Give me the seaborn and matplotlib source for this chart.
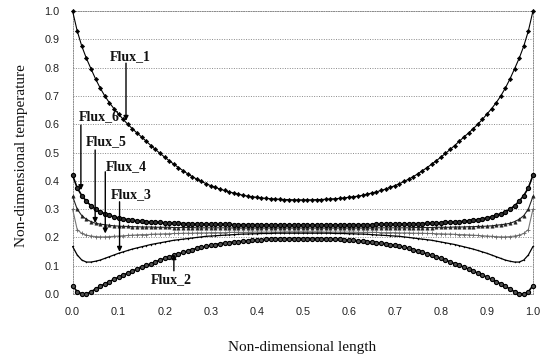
import numpy as np
import pandas as pd
import matplotlib
matplotlib.use("Agg")
import matplotlib.pyplot as plt
import seaborn as sns

# ---------------- data (x step 0.01 from 0 to 1) ----------------
flux_1 = [1.000, 0.930, 0.876, 0.833, 0.796, 0.760, 0.728, 0.700, 0.676, 0.655,
          0.636, 0.617, 0.600, 0.584, 0.569, 0.555, 0.540, 0.525, 0.511, 0.497,
          0.484, 0.471, 0.459, 0.447, 0.436, 0.425, 0.415, 0.406, 0.398, 0.390,
          0.383, 0.377, 0.371, 0.366, 0.361, 0.357, 0.353, 0.349, 0.346, 0.344,
          0.342, 0.340, 0.338, 0.337, 0.336, 0.335, 0.334, 0.334, 0.333, 0.333,
          0.333,
          0.333, 0.333, 0.334, 0.334, 0.335, 0.336, 0.337, 0.338, 0.340, 0.342,
          0.344, 0.346, 0.349, 0.353, 0.357, 0.361, 0.366, 0.371, 0.377, 0.383,
          0.390, 0.398, 0.406, 0.415, 0.425, 0.436, 0.447, 0.459, 0.471, 0.484,
          0.497, 0.511, 0.525, 0.540, 0.555, 0.569, 0.584, 0.600, 0.617, 0.636,
          0.655, 0.676, 0.700, 0.728, 0.760, 0.796, 0.833, 0.876, 0.930, 1.000]

flux_2 = [0.030, 0.008, 0.001, 0.000, 0.008, 0.018, 0.027, 0.036, 0.044, 0.052,
          0.060, 0.067, 0.074, 0.081, 0.088, 0.095, 0.101, 0.107, 0.114, 0.120,
          0.126, 0.131, 0.137, 0.142, 0.147, 0.152, 0.157, 0.161, 0.165, 0.169,
          0.172, 0.175, 0.178, 0.180, 0.182, 0.184, 0.185, 0.187, 0.188, 0.190,
          0.191, 0.192, 0.193, 0.193, 0.194, 0.195, 0.195, 0.196, 0.196, 0.196,
          0.196,
          0.196, 0.196, 0.196, 0.195, 0.195, 0.194, 0.193, 0.193, 0.192, 0.191,
          0.190, 0.188, 0.187, 0.185, 0.184, 0.182, 0.180, 0.178, 0.175, 0.172,
          0.169, 0.165, 0.161, 0.157, 0.152, 0.147, 0.142, 0.137, 0.131, 0.126,
          0.120, 0.114, 0.107, 0.101, 0.095, 0.088, 0.081, 0.074, 0.067, 0.060,
          0.052, 0.044, 0.036, 0.027, 0.018, 0.008, 0.000, 0.001, 0.008, 0.030]

flux_3 = [0.168, 0.138, 0.120, 0.113, 0.113, 0.116, 0.120, 0.126, 0.132, 0.138,
          0.144, 0.149, 0.154, 0.159, 0.163, 0.167, 0.171, 0.175, 0.178, 0.181,
          0.184, 0.187, 0.190, 0.192, 0.194, 0.196, 0.198, 0.200, 0.202, 0.204,
          0.205, 0.206, 0.207, 0.208, 0.209, 0.210, 0.211, 0.212, 0.212, 0.213,
          0.213, 0.214, 0.214, 0.214, 0.215, 0.215, 0.215, 0.215, 0.215, 0.215,
          0.215,
          0.215, 0.215, 0.215, 0.215, 0.215, 0.215, 0.214, 0.214, 0.214, 0.213,
          0.213, 0.212, 0.212, 0.211, 0.210, 0.209, 0.208, 0.207, 0.206, 0.205,
          0.204, 0.202, 0.200, 0.198, 0.196, 0.194, 0.192, 0.190, 0.187, 0.184,
          0.181, 0.178, 0.175, 0.171, 0.167, 0.163, 0.159, 0.154, 0.149, 0.144,
          0.138, 0.132, 0.126, 0.120, 0.116, 0.113, 0.113, 0.120, 0.138, 0.168]

flux_4 = [0.300, 0.228, 0.214, 0.208, 0.205, 0.203, 0.202, 0.202, 0.203, 0.204,
          0.205, 0.206, 0.207, 0.208, 0.209, 0.210, 0.210, 0.211, 0.212, 0.212,
          0.213, 0.213, 0.214, 0.214, 0.215, 0.215, 0.215, 0.216, 0.216, 0.216,
          0.217, 0.217, 0.217, 0.217, 0.218, 0.218, 0.218, 0.218, 0.218, 0.219,
          0.219, 0.219, 0.219, 0.219, 0.219, 0.219, 0.220, 0.220, 0.220, 0.220,
          0.220,
          0.220, 0.220, 0.220, 0.220, 0.219, 0.219, 0.219, 0.219, 0.219, 0.219,
          0.219, 0.218, 0.218, 0.218, 0.218, 0.218, 0.217, 0.217, 0.217, 0.217,
          0.216, 0.216, 0.216, 0.215, 0.215, 0.215, 0.214, 0.214, 0.213, 0.213,
          0.212, 0.212, 0.211, 0.210, 0.210, 0.209, 0.208, 0.207, 0.206, 0.205,
          0.204, 0.203, 0.202, 0.202, 0.203, 0.205, 0.208, 0.214, 0.228, 0.300]

flux_5 = [0.345, 0.300, 0.277, 0.264, 0.256, 0.250, 0.247, 0.245, 0.243, 0.241,
          0.240, 0.239, 0.239, 0.238, 0.238, 0.237, 0.237, 0.237, 0.236, 0.236,
          0.236, 0.236, 0.235, 0.235, 0.235, 0.235, 0.235, 0.234, 0.234, 0.234,
          0.234, 0.234, 0.234, 0.234, 0.234, 0.233, 0.233, 0.233, 0.233, 0.233,
          0.233, 0.233, 0.233, 0.233, 0.233, 0.233, 0.233, 0.233, 0.233, 0.233,
          0.233,
          0.233, 0.233, 0.233, 0.233, 0.233, 0.233, 0.233, 0.233, 0.233, 0.233,
          0.233, 0.233, 0.233, 0.233, 0.233, 0.234, 0.234, 0.234, 0.234, 0.234,
          0.234, 0.234, 0.234, 0.235, 0.235, 0.235, 0.235, 0.235, 0.236, 0.236,
          0.236, 0.236, 0.237, 0.237, 0.237, 0.238, 0.238, 0.239, 0.239, 0.240,
          0.241, 0.243, 0.245, 0.247, 0.250, 0.256, 0.264, 0.277, 0.300, 0.345]

flux_6 = [0.420, 0.375, 0.348, 0.328, 0.312, 0.300, 0.291, 0.284, 0.278, 0.273,
          0.269, 0.266, 0.263, 0.261, 0.259, 0.257, 0.256, 0.255, 0.254, 0.253,
          0.252, 0.251, 0.250, 0.250, 0.249, 0.249, 0.248, 0.248, 0.247, 0.247,
          0.247, 0.246, 0.246, 0.246, 0.246, 0.245, 0.245, 0.245, 0.245, 0.245,
          0.245, 0.244, 0.244, 0.244, 0.244, 0.244, 0.244, 0.244, 0.244, 0.244,
          0.244,
          0.244, 0.244, 0.244, 0.244, 0.244, 0.244, 0.244, 0.244, 0.244, 0.245,
          0.245, 0.245, 0.245, 0.245, 0.245, 0.246, 0.246, 0.246, 0.246, 0.247,
          0.247, 0.247, 0.248, 0.248, 0.249, 0.249, 0.250, 0.250, 0.251, 0.252,
          0.253, 0.254, 0.255, 0.256, 0.257, 0.259, 0.261, 0.263, 0.266, 0.269,
          0.273, 0.278, 0.284, 0.291, 0.300, 0.312, 0.328, 0.348, 0.375, 0.420]

series_names = ["Flux_1", "Flux_2", "Flux_3", "Flux_4", "Flux_5", "Flux_6"]
tick_values = [0.0, 0.1, 0.2, 0.3, 0.4, 0.5, 0.6, 0.7, 0.8, 0.9, 1.0]
tick_labels = ["0.0", "0.1", "0.2", "0.3", "0.4", "0.5", "0.6", "0.7", "0.8", "0.9", "1.0"]
x_label = "Non-dimensional length"
y_label = "Non-dimensional temperature"

# annotation: label, text position (baseline), arrow start, arrow tip
annotations = [
    ("Flux_1", (0.126, 0.827), (0.116, 0.816), (0.116, 0.612)),
    ("Flux_6", (0.058, 0.615), (0.018, 0.597), (0.018, 0.367)),
    ("Flux_5", (0.074, 0.527), (0.049, 0.509), (0.049, 0.251)),
    ("Flux_4", (0.117, 0.438), (0.071, 0.432), (0.071, 0.214)),
    ("Flux_3", (0.128, 0.338), (0.102, 0.326), (0.102, 0.149)),
    ("Flux_2", (0.214, 0.038), (0.220, 0.082), (0.220, 0.141)),
]

# ---------------- build table ----------------
all_series = [flux_1, flux_2, flux_3, flux_4, flux_5, flux_6]
n = len(flux_1)
x = np.linspace(0.0, 1.0, n)
frames = []
for name, vals in zip(series_names, all_series):
    frames.append(pd.DataFrame({"length": x[:len(vals)], "temperature": vals, "series": name}))
df = pd.concat(frames, ignore_index=True)

styles = {
    "Flux_1": dict(color="black", lw=0.8, marker="D", ms=2.2, mfc="black", mec="black", mew=0.4),
    "Flux_2": dict(color="black", lw=1.2, marker="o", ms=3.0, mfc="#505050", mec="black", mew=0.8),
    "Flux_3": dict(color="black", lw=0.9, marker=".", ms=1.5, mfc="black", mec="black", mew=0.3),
    "Flux_4": dict(color="#777777", lw=0.8, marker="+", ms=3.0, mfc="#777777", mec="#666666", mew=0.6),
    "Flux_5": dict(color="#222222", lw=0.8, marker="^", ms=2.4, mfc="#222222", mec="#222222", mew=0.4),
    "Flux_6": dict(color="black", lw=1.2, marker="o", ms=3.0, mfc="#303030", mec="black", mew=0.8),
}

# ---------------- figure ----------------
sns.set_theme(style="white")
plt.rcParams["font.family"] = ["Liberation Sans", "DejaVu Sans"]

fig = plt.figure(figsize=(5.5, 3.59), dpi=100)
ax = fig.add_axes([0.132, 0.181, 0.837, 0.788])

for name in ["Flux_4", "Flux_5", "Flux_3", "Flux_6", "Flux_2", "Flux_1"]:
    st = styles[name]
    sub = df[df["series"] == name]
    sns.lineplot(data=sub, x="length", y="temperature", ax=ax, estimator=None, sort=False,
                 color=st["color"], linewidth=st["lw"], marker=st["marker"],
                 markersize=st["ms"], markerfacecolor=st["mfc"],
                 markeredgecolor=st["mec"], markeredgewidth=st["mew"],
                 legend=False, clip_on=False, zorder=3)

ax.set_xlim(0, 1)
ax.set_ylim(0, 1)
ax.set_xticks(tick_values)
ax.set_xticklabels(tick_labels, fontsize=7.8, family="Liberation Sans")
ax.set_yticks(tick_values)
ax.set_yticklabels(tick_labels, fontsize=7.8, family="Liberation Sans")
ax.tick_params(axis="both", length=0, pad=9.5, colors="#222222")

ax.grid(axis="y", color="#8a8a8a", linestyle=(0, (1, 1.5)), linewidth=0.7)
ax.grid(axis="x", visible=False)
for side in ["left", "right", "top", "bottom"]:
    ax.spines[side].set_visible(True)
    ax.spines[side].set_color("#8a8a8a")
    ax.spines[side].set_linestyle((0, (1, 1.5)))
    ax.spines[side].set_linewidth(0.7)

ax.set_xlabel(x_label, fontsize=11, family="Liberation Serif", color="#111111")
ax.set_ylabel(y_label, fontsize=11, family="Liberation Serif", color="#111111")
ax.xaxis.set_label_coords(0.498, -0.166)
ax.yaxis.set_label_coords(-0.097, 0.49)

for label, tpos, start, tip in annotations:
    ax.text(tpos[0], tpos[1], label, ha="center", va="baseline", fontsize=10,
            family="Liberation Serif", fontweight="bold", color="#111111", zorder=5)
    ax.annotate("", xy=tip, xytext=start,
                arrowprops=dict(arrowstyle="-|>", color="black", lw=1.0,
                                mutation_scale=7, shrinkA=0, shrinkB=0), zorder=5)

fig.savefig("out.png", dpi=100)
